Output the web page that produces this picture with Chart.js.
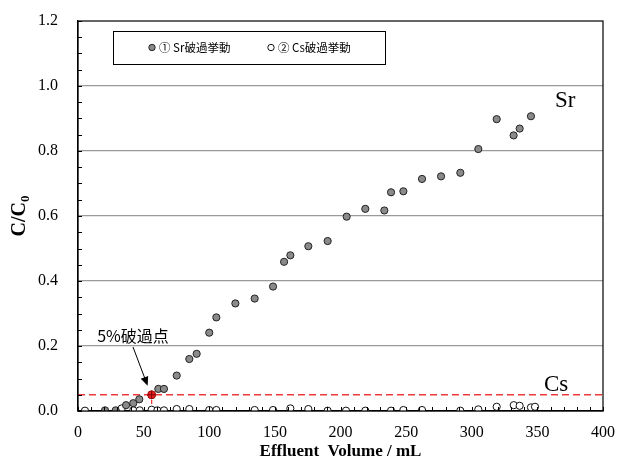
<!DOCTYPE html>
<html>
<head>
<meta charset="utf-8">
<script src="https://cdn.jsdelivr.net/npm/chart.js@4.4.1/dist/chart.umd.min.js"></script>
<style>
  html, body { margin: 0; padding: 0; background: #fff; }
  #wrap { width: 618px; height: 466px; }
</style>
</head>
<body>
<div id="wrap"><canvas id="chart" width="618" height="466"></canvas></div>
<script>
// 流出液量 (mL) と C/C0
const volSr = [20.6, 28.7, 36.6, 42.1, 46.7, 56.1, 61.2, 65.5, 75.2, 84.8, 90.4, 100, 105.4, 119.9, 134.6, 148.6, 157, 161.8, 175.5, 190.2,
               204.7, 218.9, 233.4, 238.5, 247.9, 262.1, 276.6, 291.3, 305, 319, 331.9, 336.5, 345.1];
const cSr   = [0.002, 0.002, 0.018, 0.024, 0.036, 0.049, 0.068, 0.068, 0.109, 0.16, 0.176, 0.241, 0.288, 0.331, 0.346, 0.383, 0.459, 0.479, 0.507, 0.523,
               0.598, 0.622, 0.617, 0.673, 0.676, 0.714, 0.722, 0.733, 0.806, 0.898, 0.848, 0.869, 0.907];

const volCs = [5.3, 33.3, 42.1, 47, 56.1, 60.5, 65.5, 75.2, 84.8, 100, 105.4, 134.6, 148.6, 161.8, 175.5, 190.2, 204.2, 218.9, 238.5, 247.9,
               262.1, 291.3, 305, 319, 332, 336.5, 345.1, 348.2];
const cCs   = [0.001, 0.008, 0.002, 0.002, 0.004, 0.002, 0.002, 0.006, 0.006, 0.003, 0.003, 0.003, 0.003, 0.008, 0.006, 0.001, 0.001, 0.001, 0.001, 0.003,
               0.003, 0.001, 0.005, 0.013, 0.018, 0.016, 0.011, 0.013];

// 5%破過点
const breakVol = 56.1;
const breakLevel = 0.05;

const seriesNames = ['① Sr破過挙動', '② Cs破過挙動'];
const xTicks = [0, 50, 100, 150, 200, 250, 300, 350, 400];
const yTicks = [0, 0.2, 0.4, 0.6, 0.8, 1.0, 1.2];

const pts = (xs, ys) => xs.map((x, i) => ({ x: x, y: ys[i] }));

// ラベルのはみ出し分の余白を消す
const noOverhang = s => { s.paddingTop = s.paddingBottom = s.paddingLeft = s.paddingRight = 0; };

// 目盛り・凡例・注記を描くプラグイン
const overlay = {
    id: 'overlay',
    afterDraw(chart) {
        const ctx = chart.ctx;
        const a = chart.chartArea;
        const xs = chart.scales.x, ys = chart.scales.y;
        ctx.save();

        // 外枠
        ctx.strokeStyle = '#000';
        ctx.lineWidth = 1.2;
        ctx.strokeRect(a.left, a.top, a.right - a.left, a.bottom - a.top);

        // 内向きの補助目盛り
        ctx.lineWidth = 1;
        ctx.beginPath();
        for (let v = 0; v <= 1.2001; v += 0.05) {
            const py = Math.round(ys.getPixelForValue(v)) + 0.5;
            ctx.moveTo(a.left, py); ctx.lineTo(a.left + 4, py);
        }
        for (let v = 0; v <= 400; v += 10) {
            const px = Math.round(xs.getPixelForValue(v)) + 0.5;
            ctx.moveTo(px, a.bottom); ctx.lineTo(px, a.bottom - 4);
        }
        ctx.stroke();

        // y軸タイトル C/C0
        ctx.save();
        ctx.translate(25, (a.top + a.bottom) / 2);
        ctx.rotate(-Math.PI / 2);
        ctx.fillStyle = '#000';
        ctx.textBaseline = 'alphabetic';
        ctx.font = 'bold 20px "Liberation Serif"';
        const main = 'C/C';
        const wMain = ctx.measureText(main).width;
        ctx.font = 'bold 13px "Liberation Serif"';
        const wSub = ctx.measureText('0').width;
        const x0 = -(wMain + wSub) / 2;
        ctx.font = 'bold 20px "Liberation Serif"';
        ctx.fillText(main, x0, 0);
        ctx.font = 'bold 13px "Liberation Serif"';
        ctx.fillText('0', x0 + wMain, 4);
        ctx.restore();

        // 凡例
        ctx.fillStyle = '#fff';
        ctx.fillRect(113.5, 31.5, 272, 33);
        ctx.strokeStyle = '#000';
        ctx.lineWidth = 1;
        ctx.strokeRect(113.5, 31.5, 272, 33);
        const ds = chart.data.datasets;
        const items = [[152, ds[0]], [271, ds[1]]];
        items.forEach(([lx, d], i) => {
            ctx.beginPath();
            ctx.arc(lx, 47.5, 3.2, 0, Math.PI * 2);
            ctx.fillStyle = d.backgroundColor;
            ctx.fill();
            ctx.strokeStyle = d.borderColor;
            ctx.lineWidth = 1;
            ctx.stroke();
            ctx.fillStyle = '#000';
            ctx.font = '11.5px "Noto Sans CJK JP"';
            ctx.textBaseline = 'middle';
            ctx.fillText(seriesNames[i], lx + 7, 47.5);
        });

        // 系列ラベル
        ctx.fillStyle = '#000';
        ctx.font = '23px "Liberation Serif"';
        ctx.textBaseline = 'alphabetic';
        ctx.fillText('Sr', 555, 107);
        ctx.fillText('Cs', 544, 391);

        // 5%破過点の注記と矢印
        ctx.font = '16px "Noto Sans CJK JP"';
        ctx.textBaseline = 'middle';
        ctx.textAlign = 'center';
        ctx.fillText('5%破過点', 133, 336);
        const ax = xs.getPixelForValue(breakVol) - 4, ay = ys.getPixelForValue(breakLevel) - 9;
        const sx = 133, sy = 347;
        const ang = Math.atan2(ay - sy, ax - sx);
        ctx.strokeStyle = '#000';
        ctx.lineWidth = 1;
        ctx.beginPath();
        ctx.moveTo(sx, sy);
        ctx.lineTo(ax - 7 * Math.cos(ang), ay - 7 * Math.sin(ang));
        ctx.stroke();
        ctx.beginPath();
        ctx.moveTo(ax, ay);
        ctx.lineTo(ax - 9 * Math.cos(ang) + 4 * Math.sin(ang), ay - 9 * Math.sin(ang) - 4 * Math.cos(ang));
        ctx.lineTo(ax - 9 * Math.cos(ang) - 4 * Math.sin(ang), ay - 9 * Math.sin(ang) + 4 * Math.cos(ang));
        ctx.closePath();
        ctx.fillStyle = '#000';
        ctx.fill();

        ctx.restore();
    }
};

new Chart(document.getElementById('chart'), {
    type: 'scatter',
    data: {
        datasets: [
            {
                label: seriesNames[0],
                data: pts(volSr, cSr),
                backgroundColor: '#8a8a8a',
                borderColor: '#222',
                borderWidth: 1,
                pointRadius: 3.6,
                order: 2
            },
            {
                label: seriesNames[1],
                data: pts(volCs, cCs),
                backgroundColor: '#fff',
                borderColor: '#111',
                borderWidth: 1,
                pointRadius: 3.6,
                order: 3
            },
            {
                type: 'line',
                label: '5%',
                data: [{ x: 0, y: breakLevel }, { x: 400, y: breakLevel }],
                borderColor: '#ee3a3a',
                borderWidth: 1.3,
                borderDash: [7, 4],
                pointRadius: 0,
                order: 4
            },
            {
                type: 'line',
                label: 'v5',
                data: [{ x: breakVol, y: 0 }, { x: breakVol, y: breakLevel }],
                borderColor: '#ee3a3a',
                borderWidth: 1.3,
                borderDash: [4, 3],
                pointRadius: 0,
                order: 4
            },
            {
                label: 'bp',
                data: [{ x: breakVol, y: breakLevel }],
                backgroundColor: '#e82020',
                borderColor: '#a01010',
                borderWidth: 1,
                pointRadius: 4,
                order: 1
            },
            {
                label: 'bpx',
                data: [{ x: breakVol, y: breakLevel }],
                pointStyle: 'cross',
                borderColor: '#800000',
                borderWidth: 1,
                pointRadius: 4,
                order: 0
            }
        ]
    },
    options: {
        responsive: false,
        animation: false,
        layout: { autoPadding: false, padding: { top: 21, right: 15, left: 0, bottom: 0 } },
        plugins: {
            legend: { display: false },
            tooltip: { enabled: false }
        },
        scales: {
            x: {
                type: 'linear',
                min: 0, max: 400,
                afterFit: s => { s.height = 55; noOverhang(s); },
                afterBuildTicks: s => { s.ticks = xTicks.map(v => ({ value: v })); },
                grid: { display: false, drawTicks: false },
                border: { display: true, color: '#000', width: 1.2 },
                ticks: {
                    padding: 12,
                    color: '#000',
                    font: { family: 'Liberation Serif', size: 16 }
                },
                title: {
                    display: true,
                    text: 'Effluent  Volume / mL',
                    color: '#000',
                    font: { family: 'Liberation Serif', size: 17, weight: 'bold' },
                    padding: { top: 0, bottom: 4 }
                }
            },
            y: {
                type: 'linear',
                min: 0, max: 1.2,
                afterFit: s => { s.width = 78; noOverhang(s); },
                afterBuildTicks: s => { s.ticks = yTicks.map(v => ({ value: v })); },
                grid: {
                    drawTicks: false,
                    color: ctx => (ctx.tick && (ctx.tick.value === 0 || ctx.tick.value > 1.1)) ? 'rgba(0,0,0,0)' : '#9a9a9a',
                    lineWidth: 1.2
                },
                border: { display: true, color: '#000', width: 1.2 },
                ticks: {
                    padding: 20,
                    color: '#000',
                    font: { family: 'Liberation Serif', size: 16 },
                    callback: v => v.toFixed(1)
                }
            }
        }
    },
    plugins: [overlay]
});
</script>
</body>
</html>
